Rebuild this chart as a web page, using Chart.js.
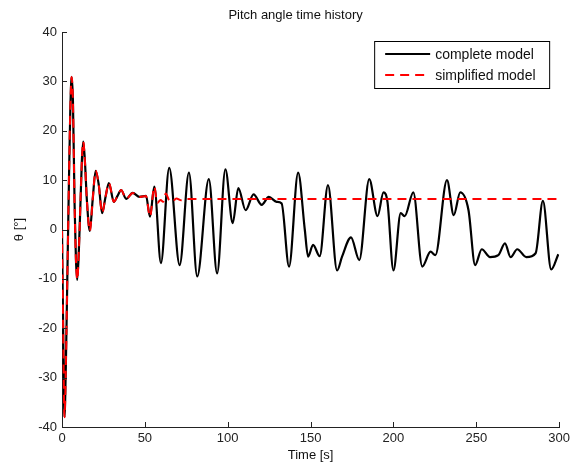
<!DOCTYPE html>
<html>
<head>
<meta charset="utf-8">
<script src="https://cdn.jsdelivr.net/npm/chart.js@4/dist/chart.umd.min.js"></script>
<style>
  body { margin: 0; background: #fff; }
  canvas { display: block; }
</style>
</head>
<body>
<canvas id="myChart" width="574" height="471"></canvas>
<script>
// values (time in s, pitch angle in deg)
var completeTime = [0, 0.7, 1.5, 2.3, 3.2, 4.2, 5.0, 5.8, 6.6, 7.6, 8.4, 9.2, 10.2, 11.2, 12.0, 12.8, 13.8, 15.0, 16.8, 18.5,
  20.3, 22.2, 24.2, 26.2, 28.3, 31.3, 33.5, 35.7, 38.7, 42.7, 46.7, 50.7, 53.1, 55.7, 59.7, 64.7, 71, 76.6, 81.6, 88.6,
  93.6, 98.6, 103, 106.4, 110.8, 115.6, 120.5, 124.8, 129.5, 132.5, 137, 142.5, 146.5, 148.5, 151.5, 155.5, 160.5, 166, 169, 174.4,
  179.4, 185.4, 190.4, 194, 196.4, 200, 204.4, 206.8, 212, 217.4, 222.4, 225.3, 232.3, 236.4, 240.3, 245.3, 249.3, 253.3, 258.3, 263.3,
  267.3, 270.7, 274.7, 280.2, 285.8, 290.2, 295.2, 299.5];
var completeTheta = [0, -20, -38, -28, -10, 10, 24, 30.9, 26, 5, -6, -10.2, -4, 6, 14, 17.8, 14, 6, -0.3, 6,
  11.9, 9, 3.3, 6.5, 9.4, 5.6, 6.8, 8, 6.2, 7.4, 6.6, 6.8, 2.6, 8.7, -6.8, 12.5, -7.2, 11.5, -9.5, 10.2,
  -8.9, 12.2, 1.3, 8.4, 3.9, 7.1, 5.0, 6.6, 5.6, 5.3, -7.5, 11.5, 0, -5.5, -3.1, -5.4, 9, -8.3, -5.5, -1.6,
  -6.2, 10.2, 2.7, 7.5, 5.6, -8.3, 3.3, 2.7, 7.5, -7.5, -4.5, -5.2, 10, 2.9, 7.5, 3.9, -7.2, -4, -5.6, -5.2,
  -2.8, -5.6, -4, -5.6, -4.8, 5.8, -8.1, -5];

var simplifiedTime = [0, 0.7, 1.5, 2.3, 3.2, 4.2, 5.0, 5.8, 6.6, 7.6, 8.4, 9.2, 10.2, 11.2, 12.0, 12.8, 13.8, 15.0, 16.8, 18.5,
  20.3, 22.2, 24.2, 26.2, 28.3, 31.3, 33.5, 35.7, 38.7, 42.7, 46.7, 50.7, 53.1, 55.7, 57.5, 59.5, 61, 62.6, 64.5, 66.5,
  69, 72, 75, 300];
var simplifiedTheta = [0, -20, -38, -28, -10, 10, 24, 30.9, 26, 5, -6, -10.2, -4, 6, 14, 17.8, 14, 6, -0.3, 6,
  11.9, 9, 3.3, 6.5, 9.4, 5.6, 6.8, 8, 6.2, 7.4, 6.6, 6.8, 2.6, 8.7, 5.4, 6.0, 5.6, 7.3, 6.0, 5.6,
  6.3, 5.9, 6.2, 6.2];

var xTicks = [0, 50, 100, 150, 200, 250, 300];
var yTicks = [-40, -30, -20, -10, 0, 10, 20, 30, 40];

var seriesNames = ['complete model', 'simplified model'];
var titleText = 'Pitch angle time history';

function toPoints(xs, ys) {
  var pts = [];
  for (var i = 0; i < xs.length; i++) {
    pts.push({x: xs[i], y: ys[i]});
  }
  return pts;
}

var fontFamily = "'Liberation Sans', Arial, Helvetica, sans-serif";
Chart.defaults.font.family = fontFamily;
Chart.defaults.color = '#222';

// matlab style: inward ticks, title, legend box
var matlabBits = {
  id: 'matlabBits',
  afterDraw: function(chart) {
    var ctx = chart.ctx;
    var area = chart.chartArea;
    var xs = chart.scales.x, ys = chart.scales.y;
    ctx.save();
    ctx.strokeStyle = '#222';
    ctx.lineWidth = 1;
    ctx.beginPath();
    xTicks.forEach(function(v) {
      var px = Math.round(xs.getPixelForValue(v)) + 0.5;
      ctx.moveTo(px, area.bottom);
      ctx.lineTo(px, area.bottom - 5);
    });
    yTicks.forEach(function(v) {
      var py = Math.round(ys.getPixelForValue(v)) + 0.5;
      ctx.moveTo(area.left, py);
      ctx.lineTo(area.left + 5, py);
    });
    ctx.stroke();

    // title
    ctx.fillStyle = '#111';
    ctx.font = '13px ' + fontFamily;
    ctx.textAlign = 'center';
    ctx.textBaseline = 'middle';
    ctx.fillText(titleText, (area.left + area.right) / 2 - 15, 15);

    // legend
    var bw = 175, bh = 47;
    var bx = area.right - 10 - bw, by = area.top + 9;
    ctx.fillStyle = '#fff';
    ctx.fillRect(bx, by, bw, bh);
    ctx.strokeStyle = '#000';
    ctx.strokeRect(bx + 0.5, by + 0.5, bw, bh);
    var sets = chart.data.datasets;
    var order = [1, 0];
    ctx.font = '14px ' + fontFamily;
    ctx.textAlign = 'left';
    for (var k = 0; k < 2; k++) {
      var ds = sets[order[k]];
      var ly = by + 13 + k * 21;
      ctx.strokeStyle = ds.borderColor;
      ctx.lineWidth = 2;
      ctx.setLineDash(ds.borderDash || []);
      ctx.beginPath();
      ctx.moveTo(bx + 11, ly);
      ctx.lineTo(bx + 56, ly);
      ctx.stroke();
      ctx.setLineDash([]);
      ctx.fillStyle = '#111';
      ctx.fillText(ds.label, bx + 61, ly + 1);
    }
    ctx.restore();
  }
};

var myChart = new Chart(document.getElementById('myChart').getContext('2d'), {
  type: 'line',
  data: {
    datasets: [{
      label: seriesNames[1],
      data: toPoints(simplifiedTime, simplifiedTheta),
      borderColor: '#ff0000',
      borderWidth: 2,
      borderDash: [9, 6],
      pointRadius: 0,
      fill: false,
      cubicInterpolationMode: 'monotone',
      order: 0
    }, {
      label: seriesNames[0],
      data: toPoints(completeTime, completeTheta),
      borderColor: '#000000',
      borderWidth: 2.2,
      pointRadius: 0,
      fill: false,
      cubicInterpolationMode: 'monotone',
      order: 1
    }]
  },
  options: {
    responsive: false,
    animation: false,
    devicePixelRatio: 1,
    layout: { padding: { top: 32, right: 11, left: 0, bottom: 0 } },
    plugins: {
      legend: { display: false },
      title: { display: false },
      tooltip: { enabled: false }
    },
    scales: {
      x: {
        type: 'linear',
        min: 0,
        max: 300,
        grid: { display: false, drawTicks: false },
        border: { display: true, color: '#222', width: 1 },
        ticks: { stepSize: 50, padding: 4, maxRotation: 0, font: { size: 13 }, color: '#222' },
        title: { display: true, text: 'Time [s]', font: { size: 13 }, color: '#111', padding: { top: 0, bottom: 8 } },
        afterFit: function(s) { s.height = 44; }
      },
      y: {
        type: 'linear',
        min: -40,
        max: 40,
        grid: { display: false, drawTicks: false },
        border: { display: true, color: '#222', width: 1 },
        ticks: { stepSize: 10, padding: 5, font: { size: 13 }, color: '#222' },
        title: { display: true, text: 'θ [°]', font: { size: 13 }, color: '#111', padding: { top: 12, bottom: 0 } },
        afterFit: function(s) { s.width = 62; }
      }
    }
  },
  plugins: [matlabBits]
});
</script>
</body>
</html>
